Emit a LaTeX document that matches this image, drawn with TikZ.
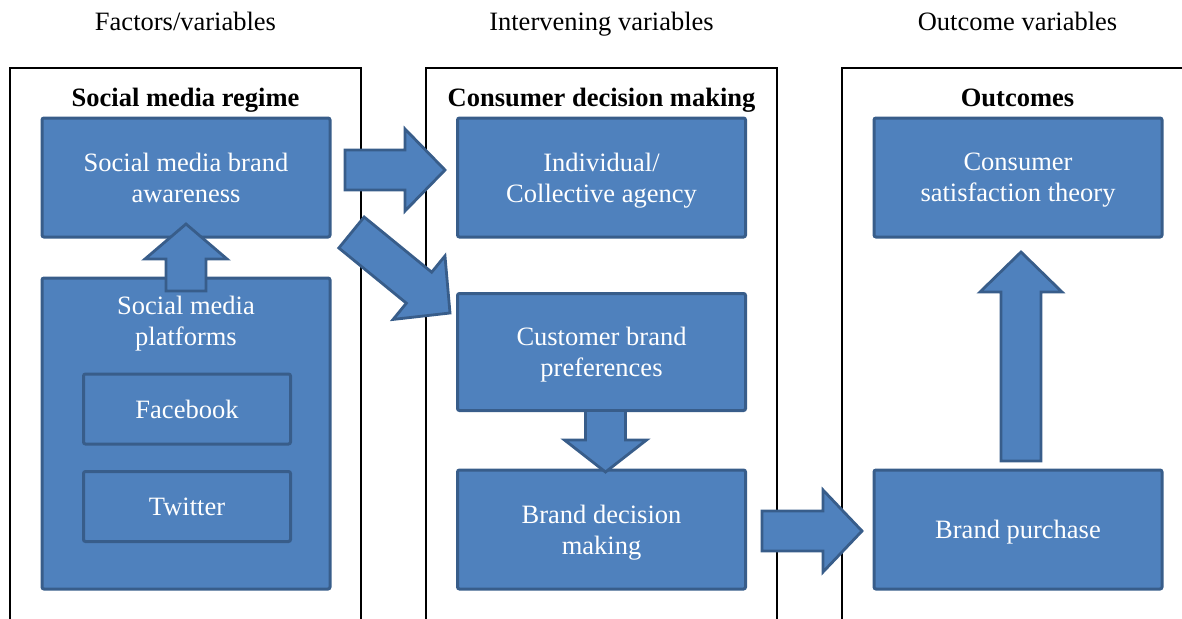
\documentclass[tikz,border=0pt]{standalone}
\usepackage{fontspec}
\setmainfont{Liberation Serif}
\usetikzlibrary{calc,positioning}
\definecolor{boxblue}{HTML}{4F81BD}
\definecolor{boxline}{HTML}{385D8A}
\newcommand{\blockarr}[3][38pt]{%
	\path (#2) coordinate (ba-a) (#3) coordinate (ba-b) ($(ba-b)!#1!(ba-a)$) coordinate (ba-h);
	\draw[barrow] ($(ba-a)!20pt!90:(ba-b)$) -- ($(ba-h)!20pt!90:(ba-b)$) -- ($(ba-h)!41pt!90:(ba-b)$) -- (ba-b)
		-- ($(ba-h)!41pt!-90:(ba-b)$) -- ($(ba-h)!20pt!-90:(ba-b)$) -- ($(ba-a)!20pt!-90:(ba-b)$) -- cycle;}

\begin{document}
\begin{tikzpicture}[x=1pt,y=-1pt,
	font=\fontsize{26.5}{31}\selectfont,
	frame/.style={draw, line width=1.6pt, minimum width=351pt, minimum height=600pt, anchor=north, inner sep=0pt, outer sep=0pt},
	head/.style={text height=18pt, text depth=6pt},
	title/.style={head, font=\fontsize{26.5}{31}\selectfont\bfseries},
	bluebox/.style={draw=boxline, fill=boxblue, line width=3pt, rounded corners=2pt, text=white, align=center,
		inner sep=0pt, outer sep=0pt, minimum width=288pt, minimum height=119pt, text depth=-3pt},
	subbox/.style={bluebox, minimum width=207pt, minimum height=70pt, text depth=0pt},
	barrow/.style={draw=boxline, fill=boxblue, line width=2.8pt, line join=miter}]
		\clip (0,0) rectangle (1182,618);
		\node[frame] (f1) at (185.5,68) {};
		\node[frame] (f2) at (601.5,68) {};
		\node[frame] (f3) at (1017.5,68) {};
		\node[head] (h1) at ($(f1.north)+(0,-43)$) {Factors/variables};
		\node[head] (h2) at ($(f2.north)+(0,-43)$) {Intervening variables};
		\node[head] (h3) at ($(f3.north)+(0,-43)$) {Outcome variables};
		\node[title] (t1) at ($(f1.north)+(0,32)$) {Social media regime};
		\node[title] (t2) at ($(f2.north)+(0,32)$) {Consumer decision making};
		\node[title] (t3) at ($(f3.north)+(0,32)$) {Outcomes};
		\node[bluebox] (aware) at (186,177.5) {Social media brand\\awareness};
		\node[bluebox, minimum height=311pt] (plat) at (186,433.5) {};
		\node[text=white, align=center, text depth=-3pt] (platname) at ($(plat.north)+(0,43)$) {Social media\\platforms};
		\node[subbox] (fb) at (187,409) {Facebook};
		\node[subbox] (tw) at (187,506.5) {Twitter};
		\node[bluebox] (agency) at (601.5,177.5) {Individual/\\Collective agency};
		\node[bluebox, minimum height=117pt] (pref) at (601.5,352) {Customer brand\\preferences};
		\node[bluebox] (decide) at (601.5,529.5) {Brand decision\\making};
		\node[bluebox] (satis) at (1018,177.5) {Consumer\\satisfaction theory};
		\node[bluebox] (buy) at (1018,529.5) {Brand purchase};
		\blockarr[35pt]{$(plat.north)+(0,13)$}{$(aware.south)+(0,-13)$}
		\blockarr[40pt]{$(aware.east)+(15,-7.5)$}{$(agency.west)+(-12.5,-7.5)$}
		\blockarr[40pt]{$(aware.south east)+(21.5,-4.5)$}{$(pref.north west)+(-7.5,19.5)$}
		\blockarr[32pt]{$(pref.south)+(4,0)$}{$(decide.north)+(4,2)$}
		\blockarr[39pt]{$(decide.east)+(16.5,1.5)$}{$(buy.west)+(-12,1.5)$}
		\blockarr[40pt]{$(buy.north)+(3,-9)$}{$(satis.south)+(3,15)$}
	\end{tikzpicture}
\end{document}
